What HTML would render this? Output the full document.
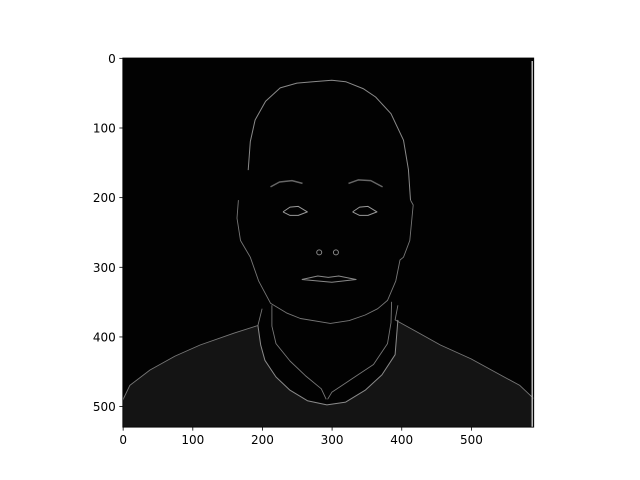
<!DOCTYPE html>
<html><head><meta charset="utf-8"><style>
html,body{margin:0;padding:0;background:#fff;}
svg{display:block;font-family:"DejaVu Sans","Liberation Sans",sans-serif;}
</style></head><body>
<svg id="chart" width="640" height="480" viewBox="0 0 640 480">
  <rect x="0" y="0" width="640" height="480" fill="#fff"/>
  <g id="img"></g>
  <g id="axes"></g>
</svg>
<script>
const imgWidth = 590;
const imgHeight = 530;
const xTicks = [0, 100, 200, 300, 400, 500];
const yTicks = [0, 100, 200, 300, 400, 500];
const xTickLabels = ["0", "100", "200", "300", "400", "500"];
const yTickLabels = ["0", "100", "200", "300", "400", "500"];
// outlines in image pixel coords
const headOutline = [[180,161],[183,120],[190,89],[205,62],[226,43],[250,36],[273,34],[300,32],[320,34],[345,44],[363,56],[385,80],[403,118],[410,160],[413,204]];
const faceOutline = [[166,204],[164,230],[169,262],[183,286],[195,320],[212,352],[235,366],[255,374],[298,381],[325,377],[348,369],[366,360],[380,348],[392,320],[398,290],[403,286],[412,262],[417,211],[413,204]];
const leftShoulder = [[0,491],[10,470],[39,448],[75,428],[111,412],[160,395],[194,384],[200,360]];
const rightShoulder = [[395,355],[391,376],[420,392],[456,412],[500,432],[542,455],[570,470],[590,489]];
const neckline = [[194,384],[198,412],[204,434],[220,458],[240,477],[265,492],[293,498],[320,494],[348,477],[372,455],[391,426],[395,376]];
const neckLeft = [[214,355],[214,385],[220,410],[240,435],[262,456],[285,475],[292,490]];
const neckRight = [[386,350],[385,380],[380,410],[360,440],[330,460],[300,480],[294,490]];
const leftEyebrow = [[212,185],[225,178],[243,176],[258,180]];
const rightEyebrow = [[324,180],[338,175],[356,176],[373,185]];
const leftEye = [[230,221],[240,214],[252,213],[265,221],[252,226],[240,226],[230,221]];
const rightEye = [[330,221],[340,214],[352,213],[365,221],[352,226],[340,226],[330,221]];
const nostrils = [[282,279],[306,279]];
const mouth = [[257,318],[280,313],[295,315],[310,313],[335,318],[300,322],[257,318]];

const X0 = 122.8, Y0 = 58, S = 0.6965;
const sx = v => X0 + v * S;
const sy = v => Y0 + v * S;
const NS = "http://www.w3.org/2000/svg";
const img = document.getElementById('img');
const axes = document.getElementById('axes');

function mk(tag, attrs, parent){
  const e = document.createElementNS(NS, tag);
  for (const k in attrs) e.setAttribute(k, attrs[k]);
  parent.appendChild(e);
  return e;
}

const bg = mk('rect', {x: sx(0), y: sy(0), width: imgWidth*S, height: imgHeight*S, fill: '#020202'}, img);



const sweaterPts = leftShoulder.slice(0,7).concat(neckline).concat(rightShoulder.slice(1)).concat([[590,530],[0,530]]);
const sw = mk('polygon', {points: sweaterPts.map(p => sx(p[0]) + ',' + sy(p[1])).join(' '), fill: '#141414'}, img);



function line(pts, name, col, w){
  const d = pts.map((p,i) => (i ? 'L' : 'M') + sx(p[0]).toFixed(1) + ' ' + sy(p[1]).toFixed(1)).join(' ');
  const e = mk('path', {d: d, fill: 'none', stroke: col, 'stroke-width': w, 'stroke-linejoin': 'round'}, img);
  
  
}
line(headOutline, 'hair-outline', '#8a8a8a', 1);
line(faceOutline, 'face-outline', '#777', 0.9);
line(leftShoulder, 'left-shoulder', '#777', 0.9);
line(rightShoulder, 'right-shoulder', '#777', 0.9);
line(neckline, 'sweater-neckline', '#8a8a8a', 1);
line(neckLeft, 'neck-left', '#777', 0.9);
line(neckRight, 'neck-right', '#777', 0.9);
line(leftEyebrow, 'left-eyebrow', '#666', 1.5);
line(rightEyebrow, 'right-eyebrow', '#666', 1.5);
line(leftEye, 'left-eye', '#999', 1);
line(rightEye, 'right-eye', '#999', 1);
line(mouth, 'mouth', '#888', 1);
nostrils.forEach(function(p){
  const c = mk('circle', {cx: sx(p[0]), cy: sy(p[1]), r: 2.5, fill: 'none', stroke: '#888', 'stroke-width': 1}, img);
  
  
});
const edge = mk('line', {x1: sx(imgWidth)-1.5, y1: sy(0)+3, x2: sx(imgWidth)-1.5, y2: sy(imgHeight), stroke: '#bbb', 'stroke-width': 1.5}, img);



const fr = mk('rect', {x: sx(0), y: sy(0), width: imgWidth*S, height: imgHeight*S, fill: 'none', stroke: '#000', 'stroke-width': 0.8}, axes);



xTicks.forEach(function(t, i){
  const x = sx(t + 0.5);
  const tk = mk('line', {x1: x, y1: sy(imgHeight), x2: x, y2: sy(imgHeight) + 3.5, stroke: '#000', 'stroke-width': 0.8}, axes);
  
  
  const tx = mk('text', {x: x, y: sy(imgHeight) + 17, 'font-size': 12, 'text-anchor': 'middle', fill: '#000'}, axes);
  tx.textContent = xTickLabels[i];
  
  
});
yTicks.forEach(function(t, i){
  const y = sy(t + 0.5);
  const tk = mk('line', {x1: sx(0) - 3.5, y1: y, x2: sx(0), y2: y, stroke: '#000', 'stroke-width': 0.8}, axes);
  
  
  const tx = mk('text', {x: sx(0) - 7, y: y + 4.5, 'font-size': 12, 'text-anchor': 'end', fill: '#000'}, axes);
  tx.textContent = yTickLabels[i];
  
  
});
</script>
</body></html>
